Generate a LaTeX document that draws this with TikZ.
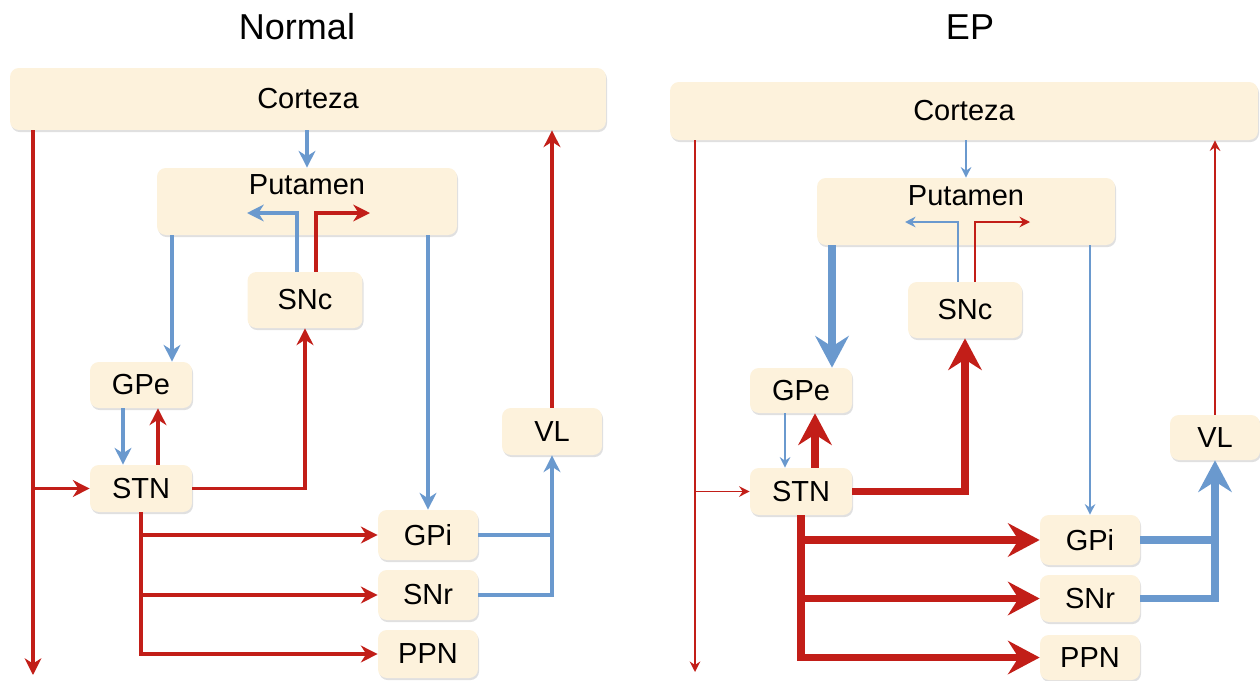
\documentclass[tikz,border=0pt]{standalone}
\usepackage{fontspec}
\setmainfont{Liberation Sans}
\usetikzlibrary{arrows.meta,shadows}
\definecolor{redln}{RGB}{194,30,24}
\definecolor{blueln}{RGB}{106,153,206}
\definecolor{boxfill}{RGB}{253,242,220}

\begin{document}
\begin{tikzpicture}[x=0.02cm, y=-0.02cm,
    box/.style={fill=boxfill, rounded corners=5pt, inner sep=0pt,
        drop shadow={shadow xshift=0.6pt, shadow yshift=-1.2pt, opacity=0.3, fill=black!40},
        font=\fontsize{16.5}{19}\selectfont},
    boxlbl/.style={anchor=center, font=\fontsize{16.5}{19}\selectfont},
    ttl/.style={font=\fontsize{20.5}{24}\selectfont},
    rd/.style={draw=redln, line width=2pt, -{Stealth[length=9.5pt, width=9.5pt, inset=3pt]}},
    bl/.style={draw=blueln, line width=2pt, -{Stealth[length=9.5pt, width=9.5pt, inset=3pt]}},
    rdthin/.style={draw=redln, line width=1.1pt, -{Stealth[length=6pt, width=6pt, inset=2pt]}},
    blthin/.style={draw=blueln, line width=1.1pt, -{Stealth[length=6pt, width=6pt, inset=2pt]}},
    rdthick/.style={draw=redln, line width=4.5pt, -{Stealth[length=18pt, width=19pt, inset=6pt]}},
    blthick/.style={draw=blueln, line width=4.5pt, -{Stealth[length=18pt, width=19pt, inset=6pt]}}]
    \useasboundingbox (0,0) rectangle (1260,680);

    \node[ttl] (ttlL) at (297,27) {Normal};
    \node[box, minimum width=11.92cm, minimum height=1.24cm] (ctxL) at (308,99) {Corteza};
    \node[box, minimum width=6cm, minimum height=1.34cm,
        label={[boxlbl, yshift=-0.34cm]north:Putamen}] (putL) at (307,201.5) {};
    \node[box, minimum width=2.3cm, minimum height=1.12cm] (snL) at (305,300) {SNc};
    \node[box, minimum width=2.04cm, minimum height=0.92cm] (gpeL) at (141,385) {GPe};
    \node[box, minimum width=2.04cm, minimum height=0.94cm] (stnL) at (141,488.5) {STN};
    \node[box, minimum width=2cm, minimum height=1cm] (gpiL) at (428,535) {GPi};
    \node[box, minimum width=2cm, minimum height=1cm] (snrL) at (428,595) {SNr};
    \node[box, minimum width=2cm, minimum height=0.96cm] (ppnL) at (428,654) {PPN};
    \node[box, minimum width=2cm, minimum height=0.94cm] (vlL) at (552,431.5) {VL};

    \coordinate (botL) at (33,675);
    \coordinate (lnA) at (172,0);
    \coordinate (lnB) at (123,0);
    \coordinate (lnC) at (158,0);
    \coordinate (tipBL) at (247,213);
    \coordinate (tipRL) at (370,213);

    \draw[rd] (ctxL.south -| botL) -- (botL);
    \draw[rd] (botL |- stnL.west) -- (stnL.west);
    \draw[bl] (ctxL.south -| putL.north) -- (putL.north);
    \draw[bl] (putL.south -| lnA) -- (gpeL.north -| lnA);
    \draw[bl] (gpeL.south -| lnB) -- (stnL.north -| lnB);
    \draw[rd] (stnL.north -| lnC) -- (gpeL.south -| lnC);
    \draw[rd] (stnL.east) -| (snL.south);
    \draw[bl] ([xshift=-0.16cm]snL.north) |- (tipBL);
    \draw[rd] ([xshift=0.22cm]snL.north) |- (tipRL);
    \draw[bl] (putL.south -| gpiL.north) -- (gpiL.north);
    \draw[rd] (stnL.south) |- (ppnL.west);
    \draw[rd] (stnL.south |- gpiL.west) -- (gpiL.west);
    \draw[rd] (stnL.south |- snrL.west) -- (snrL.west);
    \draw[bl, -] (gpiL.east) -- (gpiL.east -| vlL.south);
    \draw[bl] (snrL.east) -| (vlL.south);
    \draw[rd] (vlL.north) -- (vlL.north |- ctxL.south);

    \node[ttl] (ttlR) at (970,27) {EP};
    \node[box, minimum width=11.76cm, minimum height=1.16cm] (ctxR) at (964,111) {Corteza};
    \node[box, minimum width=5.96cm, minimum height=1.34cm,
        label={[boxlbl, yshift=-0.36cm]north:Putamen}] (putR) at (966,211.5) {};
    \node[box, minimum width=2.28cm, minimum height=1.12cm] (snR) at (965,310) {SNc};
    \node[box, minimum width=2.04cm, minimum height=0.9cm] (gpeR) at (801,390.5) {GPe};
    \node[box, minimum width=2.04cm, minimum height=0.94cm] (stnR) at (801,491.5) {STN};
    \node[box, minimum width=2cm, minimum height=1cm] (gpiR) at (1090,540) {GPi};
    \node[box, minimum width=2cm, minimum height=0.94cm] (snrR) at (1090,598.5) {SNr};
    \node[box, minimum width=2cm, minimum height=0.9cm] (ppnR) at (1090,657.5) {PPN};
    \node[box, minimum width=1.8cm, minimum height=0.9cm] (vlR) at (1215,437.5) {VL};

    \coordinate (botR) at (695,672);
    \coordinate (lnD) at (832,0);
    \coordinate (lnE) at (785,0);
    \coordinate (lnF) at (815,0);
    \coordinate (tipBR) at (905,222);
    \coordinate (tipRR) at (1030,222);

    \draw[rdthin] (ctxR.south -| botR) -- (botR);
    \draw[rdthin] (botR |- stnR.west) -- (stnR.west);
    \draw[blthin] (ctxR.south -| putR.north) -- (putR.north);
    \draw[blthick] (putR.south -| lnD) -- (gpeR.north -| lnD);
    \draw[blthin] (gpeR.south -| lnE) -- (stnR.north -| lnE);
    \draw[rdthick] (stnR.north -| lnF) -- (gpeR.south -| lnF);
    \draw[rdthick] (stnR.east) -| (snR.south);
    \draw[blthin] ([xshift=-0.14cm]snR.north) |- (tipBR);
    \draw[rdthin] ([xshift=0.2cm]snR.north) |- (tipRR);
    \draw[blthin] (putR.south -| gpiR.north) -- (gpiR.north);
    \draw[rdthick] (stnR.south) |- (ppnR.west);
    \draw[rdthick] (stnR.south |- gpiR.west) -- (gpiR.west);
    \draw[rdthick] (stnR.south |- snrR.west) -- (snrR.west);
    \draw[blthick, -] (gpiR.east) -- (gpiR.east -| vlR.south);
    \draw[blthick] (snrR.east) -| (vlR.south);
    \draw[rdthin] (vlR.north) -- (vlR.north |- ctxR.south);
\end{tikzpicture}
\end{document}
